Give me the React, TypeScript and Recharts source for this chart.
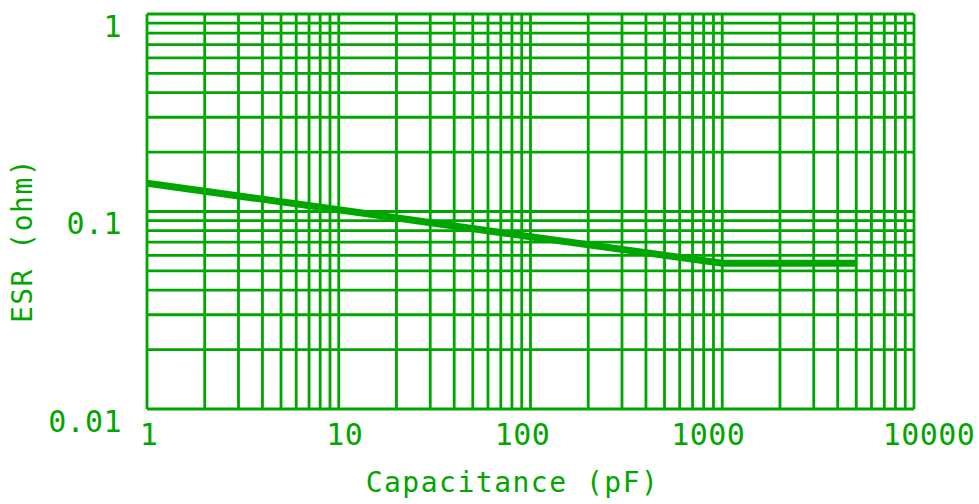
import React from 'react';
import { LineChart, Line, XAxis, YAxis, ReferenceLine } from 'recharts';

const capacitance = [1, 10, 100, 1000, 5000];
const esr = [0.139, 0.102, 0.0745, 0.0547, 0.0547];

const xTicks = [1, 10, 100, 1000, 10000];
const xTickLabels = ['1', '10', '100', '1000', '10000'];
const yTicks = [0.01, 0.1, 1];
const yTickLabels = ['0.01', '0.1', '1'];

const mantissas = [1, 2, 3, 4, 5, 6, 7, 8, 9];
const xDecades = [1, 10, 100, 1000];
const yDecades = [0.01, 0.1];

const gridX: number[] = [];
xDecades.forEach((d) => mantissas.forEach((m) => gridX.push(m * d)));
gridX.push(10000);
const gridY: number[] = [];
yDecades.forEach((d) => mantissas.forEach((m) => gridY.push(+(m * d).toPrecision(6))));
gridY.push(1);

const data = capacitance.map((c, i) => ({ c, esr: esr[i] }));

const GREEN = '#00a600';
const FONT = '"DejaVu Sans Mono", monospace';
const TICK_FS = 30;
const TICK_LS = 0.4;
const LABEL_FS = 28;
const LABEL_LS = 1.5;
// small horizontal nudges of the x tick labels, as in the original drawing
const X_LABEL_NUDGE = [2, 6, -8, -14, 15];

const XTick = (props: any) => {
  const { x, y, payload } = props;
  const idx = xTicks.indexOf(payload.value);
  const nudge = idx >= 0 ? X_LABEL_NUDGE[idx] : 0;
  return (
    <text x={x + nudge} y={y + 25} textAnchor="middle" dominantBaseline="central" fill={GREEN}
      fontFamily={FONT} fontSize={TICK_FS} style={{ letterSpacing: TICK_LS }}>
      {idx >= 0 ? xTickLabels[idx] : payload.value}
    </text>
  );
};

const YTick = (props: any) => {
  const { x, y, payload } = props;
  const idx = yTicks.indexOf(payload.value);
  return (
    <text x={x - 25} y={y + 12} textAnchor="end" dominantBaseline="central" fill={GREEN}
      fontFamily={FONT} fontSize={TICK_FS} style={{ letterSpacing: TICK_LS }}>
      {idx >= 0 ? yTickLabels[idx] : payload.value}
    </text>
  );
};

const XLabel = (props: any) => {
  const { viewBox } = props;
  const cx = viewBox.x + viewBox.width / 2 - 18;
  return (
    <text x={cx} y={viewBox.y + 83} textAnchor="middle" fill={GREEN}
      fontFamily={FONT} fontSize={LABEL_FS} style={{ letterSpacing: LABEL_LS }}>
      Capacitance (pF)
    </text>
  );
};

const YLabel = (props: any) => {
  const { viewBox } = props;
  const cx = 22;
  const cy = viewBox.y + viewBox.height / 2 + 29;
  return (
    <text x={cx} y={cy} textAnchor="middle" dominantBaseline="central" fill={GREEN}
      fontFamily={FONT} fontSize={LABEL_FS} style={{ letterSpacing: LABEL_LS }}
      transform={`rotate(-90 ${cx} ${cy})`}>
      ESR (ohm)
    </text>
  );
};

export default function App() {
  return (
    <div style={{ position: 'absolute', left: 0, top: 0, width: 979, height: 504, background: '#fff' }}>
      <LineChart width={979} height={504} data={data} margin={{ top: 14, right: 65, bottom: 0, left: 0 }}>
        <XAxis dataKey="c" type="number" scale="log" domain={[1, 10000]} ticks={xTicks}
          allowDataOverflow axisLine={false} tickLine={false} tickSize={0} tickMargin={0}
          height={95} tick={<XTick />} interval={0} label={<XLabel />} />
        <YAxis type="number" scale="log" domain={[0.01, 1]} ticks={yTicks}
          allowDataOverflow axisLine={false} tickLine={false} tickSize={0} tickMargin={0}
          width={147} tick={<YTick />} interval={0} label={<YLabel />} />
        {gridX.map((v) => (
          <ReferenceLine key={'gx' + v} x={v} stroke={GREEN} strokeWidth={2.8} ifOverflow="visible" />
        ))}
        {gridY.map((v) => (
          <ReferenceLine key={'gy' + v} y={v} stroke={GREEN} strokeWidth={2.8} ifOverflow="visible" />
        ))}
        <Line dataKey="esr" type="linear" stroke={GREEN} strokeWidth={7} dot={false}
          isAnimationActive={false} strokeLinecap="butt" />
      </LineChart>
    </div>
  );
}
